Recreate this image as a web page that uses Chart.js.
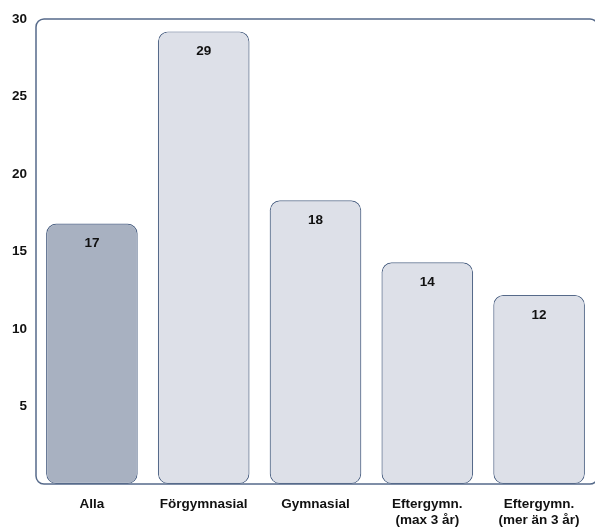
<!DOCTYPE html>
<html>
<head>
<meta charset="utf-8">
<script src="https://cdn.jsdelivr.net/npm/chart.js@4"></script>
<style>
  html, body { margin: 0; padding: 0; background: #ffffff; }
  #wrap { width: 595px; height: 529px; }
</style>
</head>
<body>
<div id="wrap"><canvas id="c" width="595" height="529"></canvas></div>
<script>
// Kategorier och värden
const categories = ['Alla', 'Förgymnasial', 'Gymnasial', ['Eftergymn.', '(max 3 år)'], ['Eftergymn.', '(mer än 3 år)']];
const values = [16.8, 29.2, 18.3, 14.3, 12.2];
const yTicks = [0, 5, 10, 15, 20, 25, 30];

const edge = '#566a8a';
const fills = ['#a8b1c1', '#dde0e8', '#dde0e8', '#dde0e8', '#dde0e8'];
const font = "'Liberation Sans', Arial, sans-serif";

// Rundad ram runt ritytan (högerkanten hamnar utanför bilden, som i originalet)
const frame = {
    id: 'frame',
    beforeDatasetsDraw(chart) {
        const { ctx, chartArea: { left, right, top, bottom } } = chart;
        const r = 8;
        ctx.save();
        ctx.strokeStyle = edge;
        ctx.lineWidth = 1.5;
        ctx.beginPath();
        ctx.roundRect(left, top, right - left + 3, bottom - top, r);
        ctx.stroke();
        ctx.restore();
    }
};

// Värdeetiketter inne i staplarna
const valueLabels = {
    id: 'valueLabels',
    afterDatasetsDraw(chart) {
        const { ctx } = chart;
        const meta = chart.getDatasetMeta(0);
        ctx.save();
        ctx.font = 'bold 13.5px ' + font;
        ctx.fillStyle = '#111111';
        ctx.textAlign = 'center';
        ctx.textBaseline = 'middle';
        meta.data.forEach((bar, i) => {
            ctx.fillText(String(Math.round(values[i])), bar.x, bar.y + 20);
        });
        ctx.restore();
    }
};

new Chart(document.getElementById('c'), {
    type: 'bar',
    data: {
        labels: categories,
        datasets: [{
            data: values,
            backgroundColor: fills,
            borderColor: edge,
            borderWidth: 1.2,
            borderRadius: 10,
            borderSkipped: false,
            barPercentage: 0.82,
            categoryPercentage: 1
        }]
    },
    plugins: [frame, valueLabels],
    options: {
        responsive: false,
        animation: false,
        layout: { padding: { top: 19, right: 0, left: 0, bottom: 0 } },
        plugins: { legend: { display: false }, tooltip: { enabled: false } },
        scales: {
            x: {
                grid: { display: false, drawTicks: false },
                border: { display: false },
                ticks: {
                    color: '#111111',
                    padding: 12,
                    font: { family: font, size: 13.5, weight: 'bold', lineHeight: 1.2 },
                    maxRotation: 0
                },
                afterFit(scale) { scale.height = 45; }
            },
            y: {
                min: 0,
                max: 30,
                grid: { display: false, drawTicks: false },
                border: { display: false },
                afterBuildTicks(scale) { scale.ticks = yTicks.map(v => ({ value: v })); },
                ticks: {
                    color: '#111111',
                    padding: 9,
                    font: { family: font, size: 13.5, weight: 'bold' },
                    callback: v => (v === 0 ? '' : v)
                },
                afterFit(scale) { scale.width = 36; }
            }
        }
    }
});
</script>
</body>
</html>
